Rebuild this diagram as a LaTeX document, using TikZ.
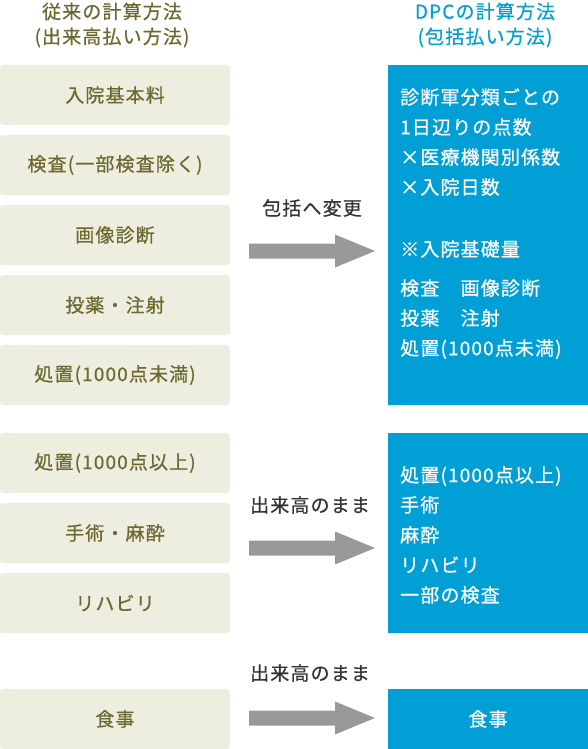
\documentclass[tikz,border=0pt]{standalone}
\usepackage{fontspec}
\setmainfont{Noto Sans CJK JP}[LetterSpace=6, FakeBold=0.6]
\usepackage{tikz}
\usetikzlibrary{positioning}
\definecolor{olivetext}{RGB}{108,104,48}
\definecolor{oldfill}{RGB}{238,238,224}
\definecolor{dpcblue}{RGB}{0,160,214}
\definecolor{arrowgray}{RGB}{153,153,153}
\definecolor{labelgray}{RGB}{51,51,51}
\tikzset{
  oldbox/.style={rectangle, fill=oldfill, text=olivetext,
    minimum width=230pt, minimum height=60pt, inner sep=0pt, outer sep=0pt,
    rounded corners=3pt, font=\fontsize{19}{25}\selectfont},
  dpcbox/.style={rectangle, fill=dpcblue, text=white,
    minimum width=200pt, inner sep=0pt, outer sep=0pt, font=\fontsize{19}{25}\selectfont},
  dpctext/.style={text=white, align=left, inner sep=0pt,
    font=\fontsize{19}{30}\selectfont},
  headline/.style={align=center, inner sep=0pt, font=\fontsize{19}{25}\selectfont},
  arrowlabel/.style={text=labelgray, inner sep=0pt, font=\fontsize{19}{25}\selectfont},
  bigarrow/.style={fill=arrowgray}
}

\begin{document}
\begin{tikzpicture}[x=1pt, y=-1pt, node distance=10pt]
  \useasboundingbox (0,0) rectangle (588,749);
  % Headings
  \node[headline, text=olivetext] (oldtitle) at (112,25) {従来の計算方法\\(出来高払い方法)};
  \node[headline, text=dpcblue] (dpctitle) at (485,25) {DPCの計算方法\\(包括払い方法)};
  % Fee-for-service items
  \node[oldbox] (kihon) at (115,95) {入院基本料};
  \node[oldbox, below=of kihon] (kensa) {検査(一部検査除く)};
  \node[oldbox, below=of kensa] (gazo) {画像診断};
  \node[oldbox, below=of gazo] (toyaku) {投薬・注射};
  \node[oldbox, below=of toyaku] (shochiA) {処置(1000点未満)};
  \node[oldbox, below=28pt of shochiA] (shochiB) {処置(1000点以上)};
  \node[oldbox, below=of shochiB] (shujutsu) {手術・麻酔};
  \node[oldbox, below=of shujutsu] (riha) {リハビリ};
  \node[oldbox, below=56pt of riha] (shokuji) {食事};
  % DPC side
  \node[dpcbox, minimum height=340pt] (hokatsu) at (488,235) {};
  \node[dpcbox, minimum height=200pt] (dekidaka) at (488,533) {};
  \node[dpcbox, minimum height=60pt] (dpcshoku) at (488,719) {食事};
  \node[dpctext, below right=23pt and 12pt of hokatsu.north west] (hokatsutxt)
    {診断軍分類ごとの\\1日辺りの点数\\×医療機関別係数\\×入院日数\\[32pt]
     ※入院基礎量\\[9pt]検査　画像診断\\投薬　注射\\処置(1000点未満)};
  \node[dpctext, below right=33pt and 12pt of dekidaka.north west] (dekidakatxt)
    {処置(1000点以上)\\手術\\麻酔\\リハビリ\\一部の検査};
  % Arrows and their labels
  \node[arrowlabel] (henko) at (312,208) {包括へ変更};
  \node[arrowlabel] (mama1) at (310,505) {出来高のまま};
  \node[arrowlabel] (mama2) at (310,673) {出来高のまま};
  \coordinate (arr1) at (249,251);
  \coordinate (arr2) at (249,548);
  \coordinate (arr3) at (249,718);
  \fill[bigarrow] (arr1) ++(0,-7.5) -- ++(86,0) -- ++(0,-9) -- ++(40,16.5)
    -- ++(-40,16.5) -- ++(0,-9) -- ++(-86,0) -- cycle;
  \fill[bigarrow] (arr2) ++(0,-7.5) -- ++(86,0) -- ++(0,-9) -- ++(40,16.5)
    -- ++(-40,16.5) -- ++(0,-9) -- ++(-86,0) -- cycle;
  \fill[bigarrow] (arr3) ++(0,-7.5) -- ++(86,0) -- ++(0,-9) -- ++(40,16.5)
    -- ++(-40,16.5) -- ++(0,-9) -- ++(-86,0) -- cycle;
\end{tikzpicture}
\end{document}
